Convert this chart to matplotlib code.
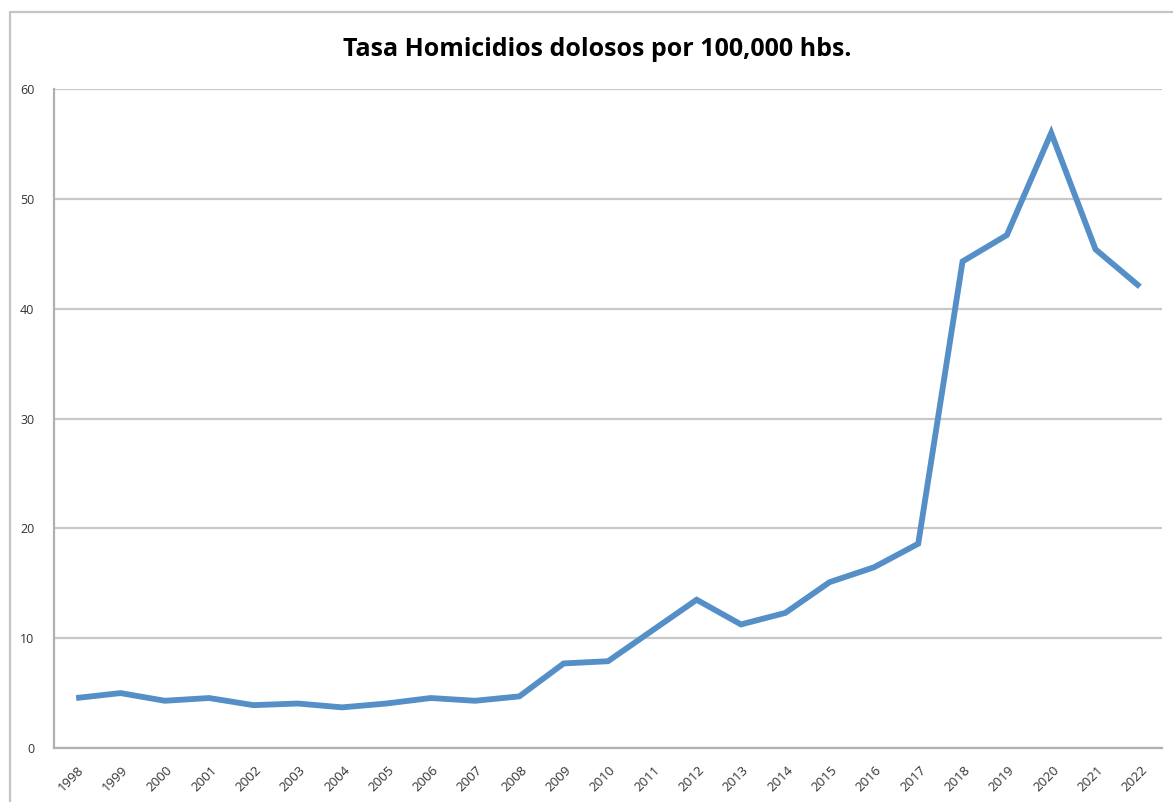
import matplotlib
matplotlib.use("Agg")
import matplotlib.pyplot as plt
from matplotlib.patches import Rectangle
from matplotlib.transforms import ScaledTranslation

years = ["1998", "1999", "2000", "2001", "2002", "2003", "2004", "2005", "2006",
         "2007", "2008", "2009", "2010", "2011", "2012", "2013", "2014", "2015",
         "2016", "2017", "2018", "2019", "2020", "2021", "2022"]
tasa = [4.55, 5.0, 4.3, 4.55, 3.9, 4.05, 3.7, 4.05, 4.55,
        4.3, 4.7, 7.7, 7.9, 10.7, 13.5, 11.25, 12.3, 15.1,
        16.45, 18.6, 44.3, 46.7, 56.0, 45.4, 42.0]
yticks = [0, 10, 20, 30, 40, 50, 60]
title = "Tasa Homicidios dolosos por 100,000 hbs."

W, H = 1173, 802
fig = plt.figure(figsize=(W / 100, H / 100), dpi=100)
fig.patch.set_facecolor("white")

# outer chart frame
fig.patches.append(Rectangle((10 / W, -0.05), 1.2, 1 - 12 / H + 0.05,
                             transform=fig.transFigure, fill=False,
                             edgecolor="#c4c4c4", linewidth=1.6, zorder=0))

left, right, top, bottom = 54, 1162, 89, 748
ax = fig.add_axes([left / W, 1 - bottom / H, (right - left) / W, (bottom - top) / H])

x = list(range(len(years)))
ax.plot(x, tasa, color="#558fc8", linewidth=4.2, solid_joinstyle="miter",
        solid_capstyle="butt", zorder=3)

ax.set_xlim(-0.5, len(years) - 0.5)
ax.set_ylim(0, 60)
ax.set_yticks(yticks)
ax.set_yticklabels([str(v) for v in yticks], fontsize=9, color="#333333",
                   family="Open Sans")
ax.set_xticks(x)
ax.set_xticklabels(years, rotation=45, ha="right", rotation_mode="anchor",
                   fontsize=9.5, color="#333333", family="Open Sans")
ax.tick_params(axis="both", length=0)
ax.tick_params(axis="y", pad=14)
ax.tick_params(axis="x", pad=11)
shift = ScaledTranslation(1 / 100, 0, fig.dpi_scale_trans)
for lab in ax.get_xticklabels():
    lab.set_transform(lab.get_transform() + shift)

ax.grid(axis="y", color="#c8c8c8", linewidth=1.6, zorder=1)
ax.set_axisbelow(True)
for s in ["top", "right"]:
    ax.spines[s].set_visible(False)
ax.spines["left"].set_color("#b0b0b0")
ax.spines["left"].set_linewidth(1.6)
ax.spines["bottom"].set_color("#b0b0b0")
ax.spines["bottom"].set_linewidth(1.6)

fig.text(597 / W, 1 - 50 / H, title, ha="center", va="center",
         fontsize=18, fontweight="bold", family="Open Sans", color="black")

fig.savefig("out.png", dpi=100)
